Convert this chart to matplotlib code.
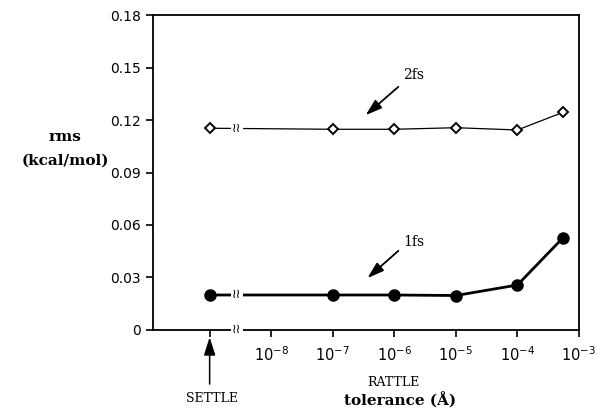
import matplotlib
matplotlib.use("Agg")
import matplotlib.pyplot as plt
from matplotlib.ticker import NullLocator

# Data
tolerance = [1e-9, 1e-7, 1e-6, 1e-5, 1e-4, 5.5e-4]   # first entry = SETTLE position
rms_2fs = [0.1153, 0.1147, 0.1147, 0.1156, 0.1143, 0.1244]
rms_1fs = [0.0200, 0.0200, 0.0200, 0.0197, 0.0257, 0.0527]
yticks = [0, 0.03, 0.06, 0.09, 0.12, 0.15, 0.18]
ytick_labels = ["0", "0.03", "0.06", "0.09", "0.12", "0.15", "0.18"]
xticks = [1e-9, 1e-8, 1e-7, 1e-6, 1e-5, 1e-4, 1e-3]
xtick_labels = ["", r"$\mathregular{10^{-8}}$", r"$\mathregular{10^{-7}}$", r"$\mathregular{10^{-6}}$",
                r"$\mathregular{10^{-5}}$", r"$\mathregular{10^{-4}}$", r"$\mathregular{10^{-3}}$"]
break_x = 2.75e-9

fig = plt.figure(figsize=(5.97, 4.08), dpi=100)
ax = fig.add_axes([0.2563, 0.1912, 0.9698 - 0.2563, 0.9632 - 0.1912])

ax.plot(tolerance, rms_2fs, color="black", lw=0.9, marker="D", ms=5.5,
        mfc="white", mec="black", mew=1.4, zorder=3)
ax.plot(tolerance, rms_1fs, color="black", lw=2.0, marker="o", ms=8,
        mfc="black", mec="black", zorder=3)

ax.set_xscale("log")
ax.set_xlim(10 ** -9.92, 1e-3)
ax.set_ylim(0, 0.18)
ax.set_yticks(yticks)
ax.set_yticklabels(ytick_labels, fontsize=10)
ax.set_xticks(xticks)
ax.set_xticklabels(xtick_labels, fontsize=10.5)
ax.xaxis.set_minor_locator(NullLocator())
ax.tick_params(axis="y", direction="out", length=5, width=1.2, pad=4)
ax.tick_params(axis="x", direction="out", length=5, width=1.2, pad=6)
for s in ax.spines.values():
    s.set_linewidth(1.3)

# break marks
for yv in [rms_2fs[0], rms_1fs[0], 0.0]:
    ax.text(break_x, yv, "\u2240\u2240", ha="center", va="center", fontsize=9,
            family="DejaVu Sans", zorder=5, clip_on=False,
            bbox=dict(boxstyle="square,pad=0.1", fc="white", ec="none"))

# annotations
arrow_kw = dict(arrowstyle="-|>,head_length=1.0,head_width=0.32", color="black", lw=1.3)
ax.annotate("", xy=(10 ** -6.50, 0.1217), xytext=(10 ** -5.90, 0.1400), arrowprops=arrow_kw)
ax.text(10 ** -5.85, 0.1457, "2fs", fontsize=10, family="DejaVu Serif", va="center")
ax.annotate("", xy=(10 ** -6.47, 0.0286), xytext=(10 ** -5.90, 0.0463), arrowprops=arrow_kw)
ax.text(10 ** -5.85, 0.0503, "1fs", fontsize=10, family="DejaVu Serif", va="center")

# SETTLE arrow below axis
ax.annotate("", xy=(1e-9, -0.0025), xytext=(1e-9, -0.0325),
            xycoords="data", textcoords="data", annotation_clip=False,
            arrowprops=dict(arrowstyle="-|>,head_length=1.1,head_width=0.35",
                            color="black", lw=1.1))

fig.text(212 / 597, 1 - 398 / 408, "SETTLE", ha="center", va="center",
         fontsize=9, family="DejaVu Serif")
fig.text(393 / 597, 1 - 383 / 408, "RATTLE", ha="center", va="center",
         fontsize=9, family="DejaVu Serif")
fig.text(400 / 597, 1 - 401 / 408, "tolerance (\u00c5)", ha="center", va="center",
         fontsize=11, family="DejaVu Serif", weight="bold")
fig.text(65 / 597, 1 - 137 / 408, "rms", ha="center", va="center",
         fontsize=11, family="DejaVu Serif", weight="bold")
fig.text(65 / 597, 1 - 161 / 408, "(kcal/mol)", ha="center", va="center",
         fontsize=11, family="DejaVu Serif", weight="bold")

fig.savefig("out.png", dpi=100)
